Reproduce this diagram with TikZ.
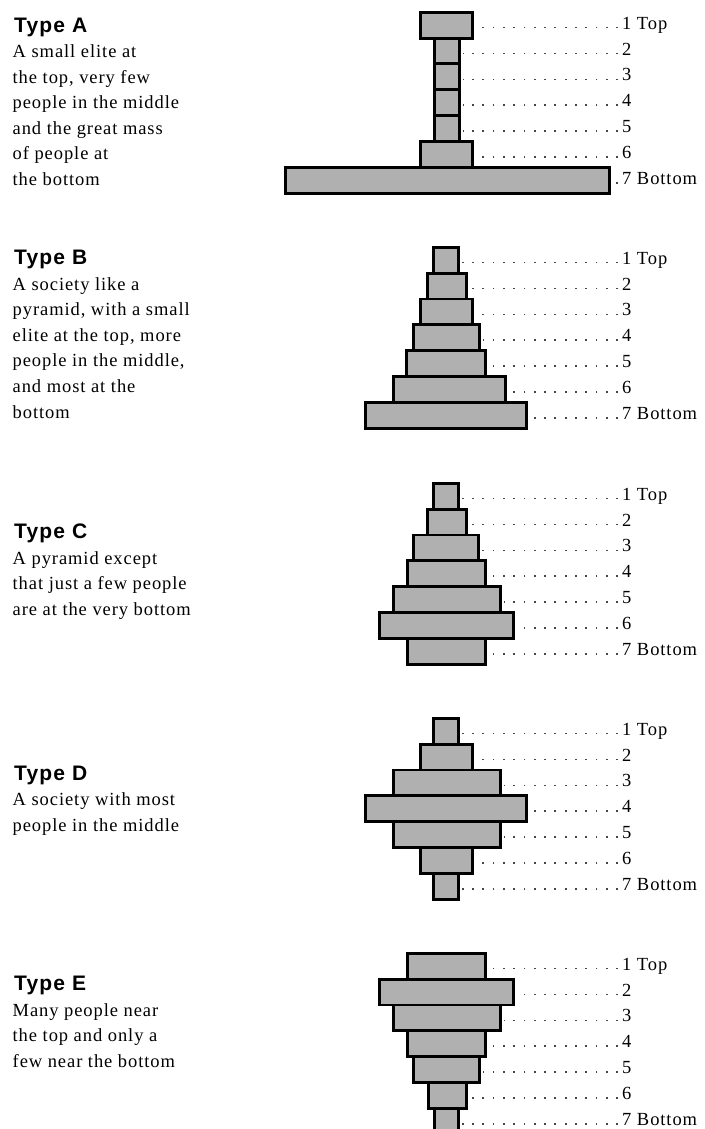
\documentclass[tikz,border=0pt]{standalone}
\usepackage{fontspec}
\setmainfont{Liberation Serif}[LetterSpace=5]
\newfontfamily\headfont{Liberation Sans}[LetterSpace=5.5]
\definecolor{barfill}{RGB}{176,176,176}
\definecolor{dotcol}{RGB}{70,70,70}
\tikzset{
  bar/.style={draw=black, line width=2.9pt, fill=barfill, minimum height=25.85pt, inner sep=0pt, outer sep=0pt},
  leader/.style={draw=dotcol, line width=1.6pt, dash pattern=on 1.8pt off 8.5pt, shorten >=3pt},
  lvl/.style={anchor=base west, inner sep=0pt, font=\fontsize{18.5}{22}\selectfont},
  head/.style={anchor=base west, inner sep=0pt, font=\headfont\bfseries\fontsize{21}{24}\selectfont},
  desc/.style={anchor=base west, inner sep=0pt, font=\fontsize{18.5}{25.6}\selectfont},
}
\newcommand\pyramid[3]{%
  \foreach \w/\c [count=\k] in {#3} {
    \pgfmathsetmacro\yc{#2+1.25+(\k-0.5)*25.85}
    \node[bar, minimum width=\w pt-2.9pt] (#1\k) at (\c,\yc) {};
    \node[lvl] (l#1\k) at (622,\yc+4) {\k\ifnum\k=1 \ Top\fi\ifnum\k=7 \ Bottom\fi};
    \coordinate (d#1\k) at ([shift={(-4,-1.5)}]l#1\k.base west);
    \draw[leader] (d#1\k) -- (d#1\k -| #1\k.east);
  }%
}
\begin{document}
\begin{tikzpicture}[x=1pt,y=-1pt]
\useasboundingbox (0,0) rectangle (704,1129);
% Type A
\node[head] (hA) at (14,33) {Type A};
\node[desc] (tA) at (12.5,57.5) {\parbox[t]{250pt}{\raggedright A small elite at\\the top, very few\\people in the middle\\and the great mass\\of people at\\the bottom}};
\pyramid{A}{11}{55/446.5, 28/447, 28/447, 28/447, 28/447, 55/446.5, 327/447.5}
% Type B
\node[head] (hB) at (14,264) {Type B};
\node[desc] (tB) at (12.5,290) {\parbox[t]{250pt}{\raggedright A society like a\\pyramid, with a small\\elite at the top, more\\people in the middle,\\and most at the\\bottom}};
\pyramid{B}{246}{28/446, 42/447, 55/446.5, 69/446.5, 82/446, 115/449.5, 164/446}
% Type C
\node[head] (hC) at (14,538) {Type C};
\node[desc] (tC) at (12.5,564) {\parbox[t]{250pt}{\raggedright A pyramid except\\that just a few people\\are at the very bottom}};
\pyramid{C}{482}{28/446, 42/447, 68/446, 81/446.5, 110/447, 137/446.5, 81/446.5}
% Type D
\node[head] (hD) at (14,780) {Type D};
\node[desc] (tD) at (12.5,805.5) {\parbox[t]{250pt}{\raggedright A society with most\\people in the middle}};
\pyramid{D}{717}{28/446, 55/446.5, 110/447, 164/446, 110/447, 55/446.5, 28/446}
% Type E
\node[head] (hE) at (14,990) {Type E};
\node[desc] (tE) at (12.5,1016) {\parbox[t]{250pt}{\raggedright Many people near\\the top and only a\\few near the bottom}};
\pyramid{E}{952}{81/446.5, 137/446.5, 110/447, 81/446.5, 69/446.5, 41/447.5, 27/446.5}
\end{tikzpicture}
\end{document}
